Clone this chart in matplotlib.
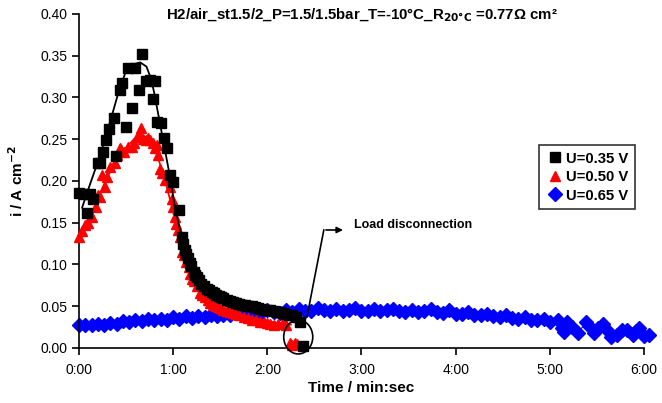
import matplotlib
matplotlib.use("Agg")
import matplotlib.pyplot as plt
from matplotlib.patches import Ellipse

plt.rcParams['font.family'] = ['Liberation Sans', 'DejaVu Sans']

# ---- data (time in seconds, current density in A cm^-2) ----
black_t = [0, 3, 5, 7, 9, 12, 13.5, 15.5, 17.5, 19, 22, 23.5, 26, 27.5, 30, 31.5, 34, 36, 38, 40,
           43, 45, 47, 48.5, 50, 52, 54, 56, 58, 60, 63.5, 65.5, 66.5, 67.5, 68.5, 69.5, 70.5, 71.5,
           73, 74, 75, 76.5, 78, 79.5, 81.5, 83, 84.5, 86, 87.5, 89, 90.5, 92, 94, 96, 98, 100, 102,
           104, 106, 108, 110, 112, 114, 116, 118, 120, 122, 124, 126, 128, 130, 132, 134, 136,
           138, 141, 143]
black_y = [0.186, 0.184, 0.162, 0.185, 0.178, 0.222, 0.221, 0.235, 0.249, 0.262, 0.275, 0.230, 0.309,
           0.317, 0.265, 0.335, 0.287, 0.335, 0.309, 0.352, 0.320, 0.321, 0.298, 0.320, 0.271, 0.269,
           0.251, 0.239, 0.207, 0.199, 0.165, 0.133, 0.125, 0.117, 0.113, 0.108, 0.102, 0.098,
           0.091, 0.088, 0.085, 0.081, 0.077, 0.074, 0.071, 0.069, 0.067, 0.066, 0.064, 0.062,
           0.061, 0.060, 0.058, 0.056, 0.055, 0.054, 0.053, 0.052, 0.051, 0.050, 0.050, 0.049,
           0.048, 0.047, 0.046, 0.045, 0.045, 0.044, 0.043, 0.043, 0.042, 0.041, 0.040, 0.039,
           0.037, 0.031, 0.002]

black_fit_t = [2, 5, 10, 15, 20, 25, 30, 35, 39, 43, 46, 48, 50, 52, 55, 58, 61, 64, 67, 70, 74,
               78, 85, 95, 110, 125, 140]
black_fit_y = [0.168, 0.185, 0.212, 0.240, 0.272, 0.305, 0.332, 0.340, 0.342, 0.337, 0.322, 0.305,
               0.285, 0.265, 0.235, 0.205, 0.170, 0.145, 0.125, 0.105, 0.088, 0.078, 0.067, 0.058,
               0.050, 0.043, 0.036]

red_t = [0, 2, 3.8, 6, 8, 11, 12, 13.4, 14.5, 16.6, 18, 19.8, 23, 24, 26, 27, 29, 31.5, 33.6, 35,
         37, 38, 39.5, 41, 42.5, 44, 45.5, 47, 48.5, 49.6, 50.6, 51.7, 53, 55, 56, 58, 59, 60, 61,
         62, 63, 64.5, 65.5, 66.6, 68, 69.8, 71, 72, 73.5, 75, 77, 78.5, 80, 82, 83.6, 85.5, 87,
         88.5, 90, 92, 94, 96, 98, 100, 102, 105, 108, 110, 113, 115.5, 118, 120, 122, 124, 127,
         130, 132, 134.5, 136, 137.5, 139]
red_y = [0.133, 0.140, 0.147, 0.150, 0.157, 0.169, 0.183, 0.181, 0.207, 0.193, 0.205, 0.217, 0.221,
         0.231, 0.239, 0.237, 0.235, 0.241, 0.241, 0.245, 0.253, 0.255, 0.263, 0.250, 0.249, 0.251,
         0.249, 0.245, 0.239, 0.243, 0.231, 0.214, 0.210, 0.201, 0.203, 0.193, 0.179, 0.169, 0.157,
         0.148, 0.141, 0.133, 0.115, 0.111, 0.103, 0.097, 0.089, 0.083, 0.080, 0.074, 0.066, 0.063,
         0.061, 0.057, 0.054, 0.052, 0.050, 0.049, 0.048, 0.046, 0.044, 0.043, 0.042, 0.041,
         0.039, 0.037, 0.036, 0.034, 0.033, 0.031, 0.031, 0.030, 0.029, 0.028, 0.029, 0.030,
         0.028, 0.006, 0.004, 0.006, 0.005]

red_fit_t = [0, 5, 10, 15, 20, 25, 30, 35, 40, 45, 50, 55, 60, 63, 66, 70, 75, 80, 90, 100, 110,
             120, 130, 135]
red_fit_y = [0.137, 0.152, 0.170, 0.192, 0.212, 0.228, 0.240, 0.250, 0.255, 0.250, 0.230, 0.200,
             0.163, 0.138, 0.113, 0.092, 0.075, 0.063, 0.050, 0.042, 0.037, 0.032, 0.029, 0.028]

blue_t = [0, 4, 8, 12, 16, 20, 24, 28, 32, 36, 40, 44, 48, 52, 56, 60, 64, 68, 72, 76, 80, 84, 88,
          92, 96, 100, 104, 108, 112, 116, 120, 124, 128, 132, 136, 140, 144, 148, 152, 156, 160,
          164, 168, 172, 176, 180, 184, 188, 192, 196, 200, 204, 208, 212, 216, 220, 224, 228, 232,
          236, 240, 244, 248, 252, 256, 260, 264, 268, 272, 276, 280, 284, 288, 292, 296, 300,
          305, 308, 309, 311, 314, 318, 323, 325, 328, 331, 334, 337, 339, 343, 346, 349, 353,
          355, 357, 360, 363]
blue_y = [0.027, 0.028, 0.027, 0.029, 0.028, 0.030, 0.029, 0.032, 0.031, 0.033, 0.032, 0.035, 0.033,
          0.035, 0.034, 0.037, 0.035, 0.038, 0.036, 0.038, 0.037, 0.040, 0.038, 0.039, 0.040, 0.043,
          0.040, 0.041, 0.043, 0.042, 0.046, 0.043, 0.042, 0.045, 0.043, 0.047, 0.044, 0.044, 0.048,
          0.045, 0.044, 0.047, 0.044, 0.045, 0.048, 0.044, 0.044, 0.047, 0.044, 0.045, 0.047, 0.044,
          0.043, 0.046, 0.043, 0.044, 0.047, 0.043, 0.042, 0.045, 0.041, 0.041, 0.043, 0.040, 0.039,
          0.041, 0.038, 0.037, 0.039, 0.036, 0.035, 0.037, 0.034, 0.033, 0.035, 0.031,
          0.034, 0.024, 0.019, 0.031, 0.025, 0.018, 0.031, 0.026, 0.018, 0.024, 0.029, 0.020, 0.013,
          0.016, 0.022, 0.022, 0.016, 0.020, 0.024, 0.014, 0.015]

xtick_vals = [0, 60, 120, 180, 240, 300, 360]
xtick_labels = ['0:00', '1:00', '2:00', '3:00', '4:00', '5:00', '6:00']
ytick_vals = [0.00, 0.05, 0.10, 0.15, 0.20, 0.25, 0.30, 0.35, 0.40]

fig = plt.figure(figsize=(6.62, 4.03), dpi=100)
ax = fig.add_axes([0.1193, 0.1365, 0.8535, 0.8288])

ax.plot(blue_t, blue_y, '-', color='blue', lw=0.8, marker='D', ms=7.5, mec='blue', mfc='blue',
        label='U=0.65 V', zorder=2, clip_on=False)
ax.plot(red_t, red_y, marker='^', ms=7.5, mec='red', mfc='red', linestyle='none',
        label='U=0.50 V', zorder=3, clip_on=False)
ax.plot(red_fit_t, red_fit_y, '-', color='red', lw=1.3, zorder=4)
ax.plot(black_t, black_y, marker='s', ms=6.5, mec='black', mfc='black', linestyle='none',
        label='U=0.35 V', zorder=5, clip_on=False)
ax.plot(black_fit_t, black_fit_y, '-', color='black', lw=1.3, zorder=6)

ax.set_xlim(0, 360)
ax.set_ylim(0, 0.40)
ax.set_xticks(xtick_vals)
ax.set_xticklabels(xtick_labels)
ax.set_yticks(ytick_vals)
ax.set_yticklabels([f'{v:.2f}' for v in ytick_vals])
for s in ['top', 'right']:
    ax.spines[s].set_visible(False)
for s in ['left', 'bottom']:
    ax.spines[s].set_linewidth(1.2)
ax.tick_params(axis='both', direction='out', length=5, width=1.2, labelsize=10)
ax.tick_params(axis='x', pad=6)

ax.set_xlabel('Time / min:sec', fontsize=11, fontweight='bold', labelpad=3)
ax.set_ylabel(r'i / A cm$^{\mathbf{-2}}$', fontsize=11, fontweight='bold', labelpad=10)

ax.text(0.5, 0.995, r'H2/air_st1.5/2_P=1.5/1.5bar_T=-10°C_R$_{\mathbf{20°C}}$ =0.77Ω cm²',
        transform=ax.transAxes, ha='center', va='center', fontsize=10.8, fontweight='bold')

# legend
handles, labels = ax.get_legend_handles_labels()
order = [2, 1, 0]
leg = ax.legend([handles[i] for i in order], [labels[i] for i in order],
                loc='upper left', bbox_to_anchor=(0.814, 0.608), frameon=True, fancybox=False,
                edgecolor='black', prop={'weight': 'bold', 'size': 10.7}, handlelength=1.2,
                handletextpad=0.2, borderpad=0.45, labelspacing=0.3, borderaxespad=0)
leg.get_frame().set_linewidth(1.2)
for h in leg.legend_handles:
    h.set_linestyle('none')

# annotation: ellipse + arrow
ell = Ellipse((139.7, 0.0132), 18.5, 0.0407, fill=False, edgecolor='black', lw=1.2,
              clip_on=False, zorder=7)
ax.add_patch(ell)
ax.plot([145.3, 156], [0.0375, 0.1413], color='black', lw=1.2, zorder=7)
ax.annotate('', xy=(170, 0.1413), xytext=(155.6, 0.1413),
            arrowprops=dict(arrowstyle='-|>', color='black', lw=1.2, mutation_scale=9))
ax.text(175.5, 0.147, 'Load disconnection', fontsize=9, fontweight='bold', ha='left', va='center')

fig.savefig('out.png', dpi=100)
